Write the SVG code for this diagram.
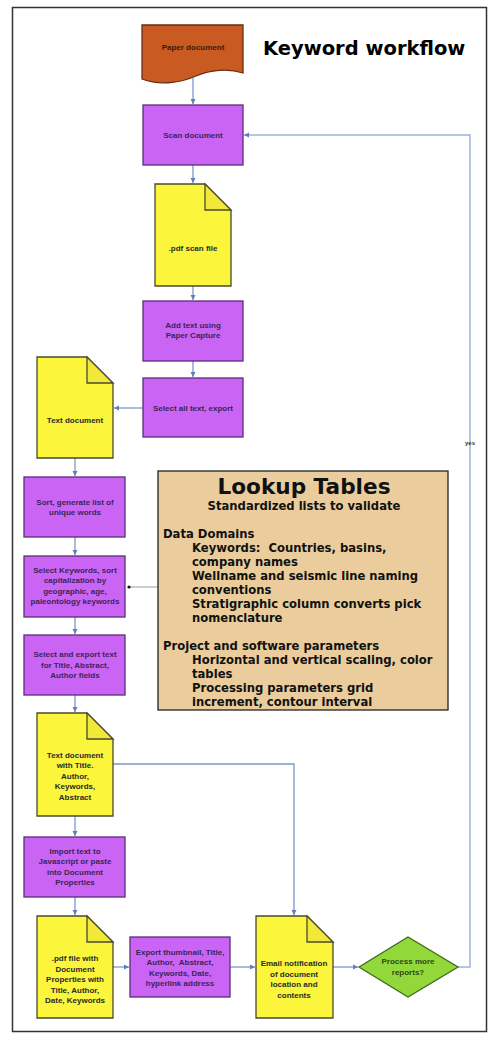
<svg xmlns="http://www.w3.org/2000/svg" width="500" height="1041" viewBox="0 0 500 1041">
<defs>
<marker id="ah" markerWidth="6" markerHeight="6" refX="5" refY="3" orient="auto" markerUnits="userSpaceOnUse">
<path d="M0,0.5 L5,3 L0,5.5 Z" fill="#5f7fb8"/>
</marker>
<marker id="dot" markerWidth="4" markerHeight="4" refX="2" refY="2" markerUnits="userSpaceOnUse">
<circle cx="2" cy="2" r="1.6" fill="#111"/>
</marker>
</defs>
<style>
.frame{fill:#ffffff;stroke:#333;stroke-width:1.5}
.proc{fill:#c964f5;stroke:#5a2d78;stroke-width:1.3}
.doc{fill:#fbf53c;stroke:#4a4a30;stroke-width:1.3}
.fold{fill:#f2e83a;stroke:#4a4a30;stroke-width:1.3}
.paper{fill:#c95a22;stroke:#6b2c10;stroke-width:1.3}
.dec{fill:#93d83a;stroke:#3e6a18;stroke-width:1.3}
.lookup{fill:#ebcd9d;stroke:#222;stroke-width:1.3}
.c{fill:none;stroke:#7a96cc;stroke-width:1.3}
.c2{fill:none;stroke:#9db3e0;stroke-width:1.5}
.cg{fill:none;stroke:#999;stroke-width:1}
.t{font-family:"Liberation Sans",Arial,sans-serif;font-weight:bold;font-size:8px;text-anchor:middle;fill:#2a2a2a}
.tp{font-family:"Liberation Sans",Arial,sans-serif;font-weight:bold;font-size:8px;text-anchor:middle;fill:#3a2457}
.title{font-family:"DejaVu Sans",Verdana,sans-serif;font-weight:bold;font-size:19.5px;fill:#000}
.lt{font-family:"DejaVu Sans",Verdana,sans-serif;font-weight:bold;fill:#111;font-size:11.6px;white-space:pre}
</style>
<rect class="frame" x="12.5" y="7.5" width="474" height="1024"/>
<text class="title" x="263" y="55">Keyword workflow</text>

<g id="connectors">
<line class="c" x1="193" y1="78" x2="193" y2="104" marker-end="url(#ah)"/>
<line class="c" x1="193" y1="165" x2="193" y2="183" marker-end="url(#ah)"/>
<line class="c" x1="193" y1="286" x2="193" y2="300" marker-end="url(#ah)"/>
<line class="c" x1="193" y1="361" x2="193" y2="377" marker-end="url(#ah)"/>
<line class="c" x1="143" y1="408" x2="114" y2="408" marker-end="url(#ah)"/>
<line class="c" x1="75" y1="458" x2="75" y2="476" marker-end="url(#ah)"/>
<line class="c" x1="75" y1="537" x2="75" y2="555" marker-end="url(#ah)"/>
<line class="c" x1="75" y1="617" x2="75" y2="634" marker-end="url(#ah)"/>
<line class="c" x1="75" y1="695" x2="75" y2="712" marker-end="url(#ah)"/>
<line class="c" x1="75" y1="816" x2="75" y2="836" marker-end="url(#ah)"/>
<line class="c" x1="75" y1="897" x2="75" y2="915" marker-end="url(#ah)"/>
<line class="c" x1="113" y1="967" x2="129" y2="967" marker-end="url(#ah)"/>
<line class="c" x1="230" y1="967" x2="255" y2="967" marker-end="url(#ah)"/>
<line class="c" x1="333" y1="967" x2="358" y2="967" marker-end="url(#ah)"/>
<polyline class="c" points="113,764 294,764 294,915" marker-end="url(#ah)"/>
<polyline class="c2" points="458,967 470,967 470,135 244,135" marker-end="url(#ah)"/>
<line class="cg" x1="158" y1="587" x2="129" y2="587" marker-end="url(#dot)"/>
<text x="470" y="445" style="font-family:'Liberation Sans',Arial,sans-serif;font-size:6px;font-weight:bold;fill:#333;text-anchor:middle">yes</text>
</g>

<g id="paper-document">
<path class="paper" d="M142,25 H243 V73 C228,68 210,70 196,76 C178,84 158,85 142,79 Z"/>
<text class="t" x="193" y="50" style="fill:#3a1a08">Paper document</text>
</g>

<g id="scan-document">
<rect class="proc" x="143" y="105" width="100" height="60"/>
<text class="tp" x="193" y="138">Scan document</text>
</g>

<g id="pdf-scan-file">
<path class="doc" d="M155,184 H205 L231,210 V286 H155 Z"/>
<path class="fold" d="M205,184 V210 H231 Z"/>
<text class="t" x="193" y="251">.pdf scan file</text>
</g>

<g id="add-text">
<rect class="proc" x="143" y="301" width="100" height="60"/>
<text class="tp" x="193" y="328">Add text using</text>
<text class="tp" x="193" y="338">Paper Capture</text>
</g>

<g id="select-all-text">
<rect class="proc" x="143" y="378" width="100" height="59"/>
<text class="tp" x="193" y="411">Select all text, export</text>
</g>

<g id="text-document">
<path class="doc" d="M37,357 H87 L113,383 V458 H37 Z"/>
<path class="fold" d="M87,357 V383 H113 Z"/>
<text class="t" x="75" y="423">Text document</text>
</g>

<g id="sort-words">
<rect class="proc" x="24" y="477" width="101" height="60"/>
<text class="tp" x="75" y="505">Sort, generate list of</text>
<text class="tp" x="75" y="515">unique words</text>
</g>

<g id="select-keywords">
<rect class="proc" x="24" y="556" width="101" height="61"/>
<text class="tp" x="75" y="573">Select Keywords, sort</text>
<text class="tp" x="75" y="583">capitalization by</text>
<text class="tp" x="75" y="594">geographic, age,</text>
<text class="tp" x="75" y="604">paleontology keywords</text>
</g>

<g id="select-export">
<rect class="proc" x="24" y="635" width="101" height="60"/>
<text class="tp" x="75" y="657">Select and export text</text>
<text class="tp" x="75" y="668">for Title, Abstract,</text>
<text class="tp" x="75" y="678">Author fields</text>
</g>

<g id="text-document-title">
<path class="doc" d="M37,713 H87 L113,739 V816 H37 Z"/>
<path class="fold" d="M87,713 V739 H113 Z"/>
<text class="t" x="75" y="758">Text document</text>
<text class="t" x="75" y="768">with Title.</text>
<text class="t" x="75" y="779">Author,</text>
<text class="t" x="75" y="789">Keywords,</text>
<text class="t" x="75" y="800">Abstract</text>
</g>

<g id="import-text">
<rect class="proc" x="24" y="837" width="101" height="60"/>
<text class="tp" x="75" y="854">Import text to</text>
<text class="tp" x="75" y="864">Javascript or paste</text>
<text class="tp" x="75" y="875">into Document</text>
<text class="tp" x="75" y="885">Properties</text>
</g>

<g id="pdf-file-properties">
<path class="doc" d="M37,916 H87 L113,942 V1018 H37 Z"/>
<path class="fold" d="M87,916 V942 H113 Z"/>
<text class="t" x="75" y="961">.pdf file with</text>
<text class="t" x="75" y="972">Document</text>
<text class="t" x="75" y="982">Properties with</text>
<text class="t" x="75" y="993">Title, Author,</text>
<text class="t" x="75" y="1003">Date, Keywords</text>
</g>

<g id="export-thumbnail">
<rect class="proc" x="130" y="937" width="100" height="60"/>
<text class="tp" x="180" y="955">Export thumbnail, Title,</text>
<text class="tp" x="180" y="965" style="white-space:pre">Author,  Abstract,</text>
<text class="tp" x="180" y="976">Keywords, Date,</text>
<text class="tp" x="180" y="986">hyperlink address</text>
</g>

<g id="email-notification">
<path class="doc" d="M256,916 H307 L333,942 V1018 H256 Z"/>
<path class="fold" d="M307,916 V942 H333 Z"/>
<text class="t" x="294" y="966">Email notification</text>
<text class="t" x="294" y="977">of document</text>
<text class="t" x="294" y="987">location and</text>
<text class="t" x="294" y="998">contents</text>
</g>

<g id="process-more">
<path class="dec" d="M359,967 L408,937 L458,967 L408,997 Z"/>
<text class="t" x="408" y="964" style="fill:#2e4a14">Process more</text>
<text class="t" x="408" y="975" style="fill:#2e4a14">reports?</text>
</g>

<g id="lookup-tables">
<rect class="lookup" x="158" y="471" width="290" height="239"/>
<text class="lt" x="304" y="494" style="font-size:21.6px;text-anchor:middle">Lookup Tables</text>
<text class="lt" x="304" y="510" style="text-anchor:middle">Standardized lists to validate</text>
<text class="lt" x="163" y="538">Data Domains</text>
<text class="lt" x="192" y="552">Keywords:  Countries, basins,</text>
<text class="lt" x="192" y="566">company names</text>
<text class="lt" x="192" y="580">Wellname and seismic line naming</text>
<text class="lt" x="192" y="594">conventions</text>
<text class="lt" x="192" y="608">Stratigraphic column converts pick</text>
<text class="lt" x="192" y="622">nomenclature</text>
<text class="lt" x="163" y="650">Project and software parameters</text>
<text class="lt" x="192" y="664">Horizontal and vertical scaling, color</text>
<text class="lt" x="192" y="678">tables</text>
<text class="lt" x="192" y="692">Processing parameters grid</text>
<text class="lt" x="192" y="706">increment, contour interval</text>
</g>
</svg>
